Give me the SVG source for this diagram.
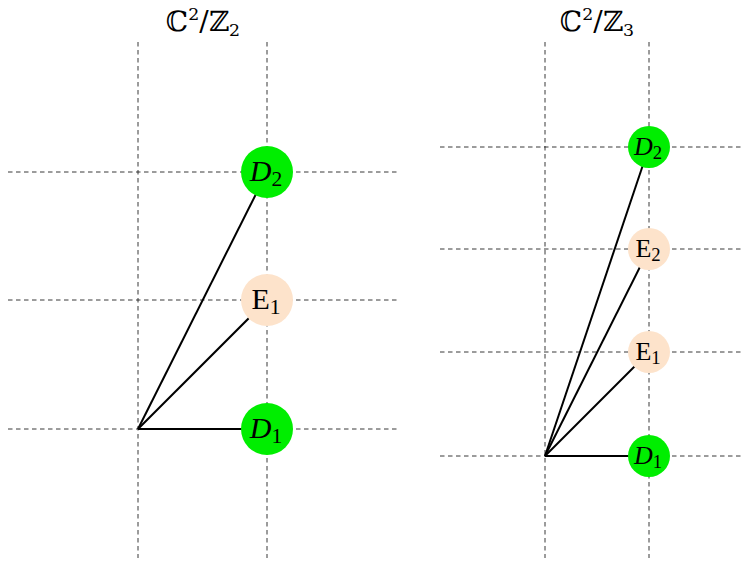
<svg xmlns="http://www.w3.org/2000/svg" width="744" height="564" viewBox="0 0 744 564">
<style>
.grid{stroke:#222;stroke-width:0.9;stroke-dasharray:4.5,3.5;fill:none}
.edge{stroke:#000;stroke-width:2;fill:none}
.d{fill:#00ee00}
.e{fill:#fde3cb}
text{font-family:"Liberation Serif","Times New Roman",serif;fill:#000}
.big{font-size:30px}
.sm{font-size:26px}
.it{font-style:italic}
.sub{font-size:0.72em}
.title{font-size:28px;font-family:"DejaVu Serif","Liberation Serif",serif}
.title .sub{font-size:0.62em}
</style>
<rect width="744" height="564" fill="#fff"/>
<g id="grid">
<line class="grid" x1="138" y1="42" x2="138" y2="558"/>
<line class="grid" x1="267" y1="42" x2="267" y2="558"/>
<line class="grid" x1="8" y1="172" x2="397" y2="172"/>
<line class="grid" x1="8" y1="300" x2="397" y2="300"/>
<line class="grid" x1="8" y1="429" x2="397" y2="429"/>
<line class="grid" x1="545" y1="42" x2="545" y2="558"/>
<line class="grid" x1="649" y1="42" x2="649" y2="558"/>
<line class="grid" x1="440" y1="147" x2="744" y2="147"/>
<line class="grid" x1="440" y1="249" x2="744" y2="249"/>
<line class="grid" x1="440" y1="352" x2="744" y2="352"/>
<line class="grid" x1="440" y1="456" x2="744" y2="456"/>
</g>
<g id="connectors">
<line class="edge" x1="138" y1="429" x2="267" y2="172"/>
<line class="edge" x1="138" y1="429" x2="267" y2="300"/>
<line class="edge" x1="138" y1="429" x2="267" y2="429"/>
<line class="edge" x1="545" y1="456" x2="649" y2="147"/>
<line class="edge" x1="545" y1="456" x2="649" y2="249"/>
<line class="edge" x1="545" y1="456" x2="649" y2="352"/>
<line class="edge" x1="545" y1="456" x2="649" y2="456"/>
</g>
<g id="title-left"><text class="title" x="203" y="31" text-anchor="middle">ℂ<tspan class="sub" dy="-11">2</tspan><tspan dy="11">/ℤ</tspan><tspan class="sub" dy="5">2</tspan></text></g>
<g id="title-right"><text class="title" x="597" y="31" text-anchor="middle">ℂ<tspan class="sub" dy="-11">2</tspan><tspan dy="11">/ℤ</tspan><tspan class="sub" dy="5">3</tspan></text></g>
<g id="L-D2"><circle class="d" cx="267" cy="172" r="26"/><text class="big" x="266" y="181" text-anchor="middle"><tspan class="it">D</tspan><tspan class="sub" dy="5">2</tspan></text></g>
<g id="L-E1"><circle class="e" cx="267" cy="300" r="26"/><text class="big" x="266" y="309" text-anchor="middle">E<tspan class="sub" dy="5">1</tspan></text></g>
<g id="L-D1"><circle class="d" cx="267" cy="429" r="26"/><text class="big" x="266" y="438" text-anchor="middle"><tspan class="it">D</tspan><tspan class="sub" dy="5">1</tspan></text></g>
<g id="R-D2"><circle class="d" cx="649" cy="147" r="21"/><text class="sm" x="648" y="155" text-anchor="middle"><tspan class="it">D</tspan><tspan class="sub" dy="4">2</tspan></text></g>
<g id="R-E2"><circle class="e" cx="649" cy="249" r="21"/><text class="sm" x="648" y="257" text-anchor="middle">E<tspan class="sub" dy="4">2</tspan></text></g>
<g id="R-E1"><circle class="e" cx="649" cy="352" r="21"/><text class="sm" x="648" y="360" text-anchor="middle">E<tspan class="sub" dy="4">1</tspan></text></g>
<g id="R-D1"><circle class="d" cx="649" cy="456" r="21"/><text class="sm" x="648" y="464" text-anchor="middle"><tspan class="it">D</tspan><tspan class="sub" dy="4">1</tspan></text></g>
</svg>
